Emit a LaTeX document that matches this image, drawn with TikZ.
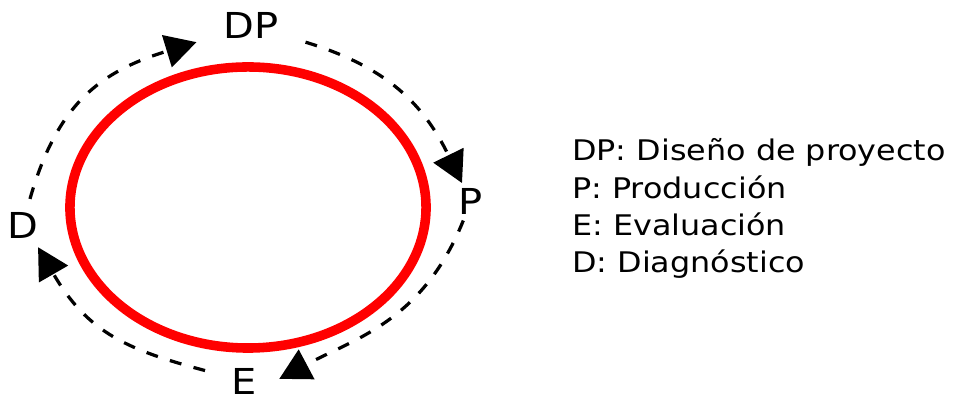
\documentclass[tikz,border=0pt]{standalone}
\usepackage{fontspec}
\setmainfont{DejaVu Sans}[FakeStretch=1.12]
\usetikzlibrary{arrows.meta}

\begin{document}
\begin{tikzpicture}[x=0.025cm, y=0.025cm,
  stage/.style={circle, inner sep=0pt, font=\fontsize{25.4}{30}\selectfont},
  flow/.style={black, line width=2.3pt, dash pattern=on 8.5pt off 9pt, -{Triangle[length=22pt,width=23.5pt]}},
  legendline/.style={anchor=base west, inner sep=0pt, font=\fontsize{20.2}{24}\selectfont}]
\useasboundingbox (0,0) rectangle (956,406);

\draw[red, line width=6.8pt] (248,198.5) ellipse [x radius=4.45cm, y radius=3.5125cm];

\node[stage, outer sep=19pt] (DP) at (251,380.5) {DP};
\node[stage, outer sep=2pt] (P) at (471,204.5) {P};
\node[stage] (E) at (244,25) {E};
\node[stage, outer sep=5pt] (D) at (22.5,181) {D};

\draw[flow] (D) to[out=74, in=197, looseness=1.12] (DP);
\draw[flow] (DP) to[out=343, in=116, looseness=1.05] (P);
\draw[flow, shorten >=15pt] (P) to[out=248, in=28, looseness=1.05] (E.-25);
\draw[flow, shorten <=15.6pt] (E) to[out=165, in=300, looseness=1.12] (D.305);

\foreach \txt [count=\i] in {DP: Diseño de proyecto, P: Producción, E: Evaluación, D: Diagnóstico}
  \node[legendline] (leg\i) at (572, 282.3-37.3*\i) {\txt};
\end{tikzpicture}
\end{document}
